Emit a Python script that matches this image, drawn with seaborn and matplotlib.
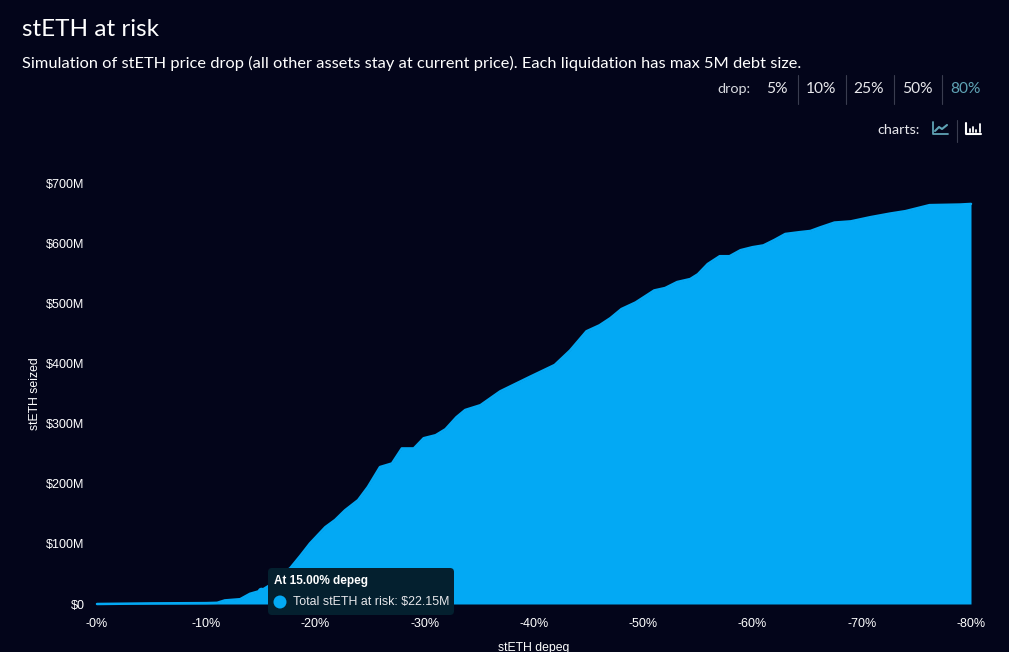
import matplotlib
matplotlib.use('Agg')
import matplotlib.pyplot as plt
import pandas as pd
import seaborn as sns
from matplotlib.patches import Circle, FancyBboxPatch

depeg = [0, 5, 10, 11, 11.7, 13.1, 14, 15, 15.7, 17.7, 18.6, 19.5, 20.9, 21.8, 22.7, 23.9, 24.8, 25.9, 27,
         27.9, 29, 29.9, 31, 31.9, 32.9, 33.7, 35.1, 36.9, 39.6, 41.9, 43.3, 44.8, 46, 47, 48, 49.3, 51, 52,
         53.1, 54.3, 55, 55.9, 57, 57.9, 58.9, 60, 61, 62, 63, 64.3, 65.3, 66.2, 67.5, 69, 70.8, 72.6, 74,
         76.2, 79, 80]
seized = [0, 1, 1.5, 2, 6, 8, 17, 22.15, 30, 60, 80, 101, 128, 140, 156, 173, 195, 228, 234,
          259, 259, 276, 281, 291, 311, 323, 331, 354, 378, 398, 422, 454, 464, 476, 491, 502, 522, 526,
          536, 541, 549, 566, 579, 579, 589, 594, 597, 606, 616, 619, 621, 627, 635, 637, 644, 650, 654,
          664, 665, 666]
x_ticks = [0, 10, 20, 30, 40, 50, 60, 70, 80]
x_labels = ['-0%', '-10%', '-20%', '-30%', '-40%', '-50%', '-60%', '-70%', '-80%']
y_ticks = [0, 100, 200, 300, 400, 500, 600, 700]
y_labels = ['$0', '$100M', '$200M', '$300M', '$400M', '$500M', '$600M', '$700M']
drops = ['5%', '10%', '25%', '50%', '80%']

BG = '#03051a'
BLUE = '#03a9f4'
W, H = 1009, 652

sns.set_theme(style='dark', rc={'axes.facecolor': BG, 'figure.facecolor': BG})
plt.rcParams['font.family'] = ['Liberation Sans', 'DejaVu Sans']

df = pd.DataFrame({'depeg': depeg, 'seized': seized})
hover = df[df['depeg'] == 15]

fig = plt.figure(figsize=(W / 100, H / 100), dpi=100)
ax = fig.add_axes([97 / W, 1 - 604 / H, 874 / W, 420.5 / H])
sns.lineplot(data=df, x='depeg', y='seized', color=BLUE, lw=1.8, clip_on=False, ax=ax)
sns.scatterplot(data=hover, x='depeg', y='seized', color=BLUE, s=30, linewidth=0, ax=ax)
ax.fill_between(df['depeg'], df['seized'], color=BLUE, lw=0)
ax.set_xlim(0, 80)
ax.set_ylim(0, 700)
ax.set_xticks(x_ticks, x_labels, color='white', fontsize=9)
ax.set_yticks(y_ticks, y_labels, color='white', fontsize=9)
ax.tick_params(axis='x', length=0, pad=10)
ax.tick_params(axis='y', length=0, pad=9)
ax.set_xlabel('stETH depeg', color='white', fontsize=8.8, labelpad=8.5)
ax.set_ylabel('stETH seized', color='white', fontsize=8.8, labelpad=3.5)
ax.grid(False)
sns.despine(ax=ax, left=True, bottom=True)

# everything else is placed in pixels of the reference
over = fig.add_axes([0, 0, 1, 1], facecolor='none')
over.set_xlim(0, W)
over.set_ylim(H, 0)
over.axis('off')

ui = 'Lato'
over.text(22, 30, 'stETH at risk', color='white', fontsize=17.5, family=ui, va='center')
over.text(22, 63, 'Simulation of stETH price drop (all other assets stay at current price). '
          'Each liquidation has max 5M debt size.', color='white', fontsize=11.75, family=ui, va='center')

over.text(750, 89, 'drop:', color='#d8dae0', fontsize=10.4, family=ui, va='center', ha='right')
drop_x = [777, 821, 869, 917, 965]
for i, (lab, px) in enumerate(zip(drops, drop_x)):
    over.text(px, 89, lab, color='#5fa3b5' if lab == '80%' else '#e8e8ec', fontsize=11.2, family=ui,
              va='center', ha='center')
    if i < 4:
        sep = 797.5 + i * 48
        over.plot([sep, sep], [75, 104], color='#3a3d50', lw=0.8)

over.text(920, 130, 'charts:', color='#e8e8ec', fontsize=10.4, family=ui, va='center', ha='right')
# line icon
over.plot([933, 933, 948], [122, 134, 134], color='#5fa3b5', lw=1.3)
over.plot([935, 939, 942, 947], [131, 127, 129, 125], color='#5fa3b5', lw=1.5)
over.plot([956.5, 956.5], [120, 142], color='#3a3d50', lw=0.8)
# bar icon
over.plot([966, 966, 981], [123, 134, 134], color='white', lw=1.5)
for bx, top in zip([969.5, 972.5, 975.5, 979.5], [129, 127, 130, 124]):
    over.plot([bx, bx], [top, 132], color='white', lw=1.3)

# tooltip
over.add_patch(FancyBboxPatch((271, 571), 180, 41, boxstyle='round,pad=3,rounding_size=4',
                              fc='#04202f', ec='none'))
over.text(274, 581, 'At 15.00% depeg', color='white', fontsize=8.5, fontweight='bold', va='center')
over.add_patch(Circle((280, 602), 6.5, fc=BLUE, ec='none'))
over.text(293, 601.5, 'Total stETH at risk: $22.15M', color='#e8e8ec', fontsize=8.95, va='center')

fig.savefig('out.png', dpi=100, facecolor=BG)
